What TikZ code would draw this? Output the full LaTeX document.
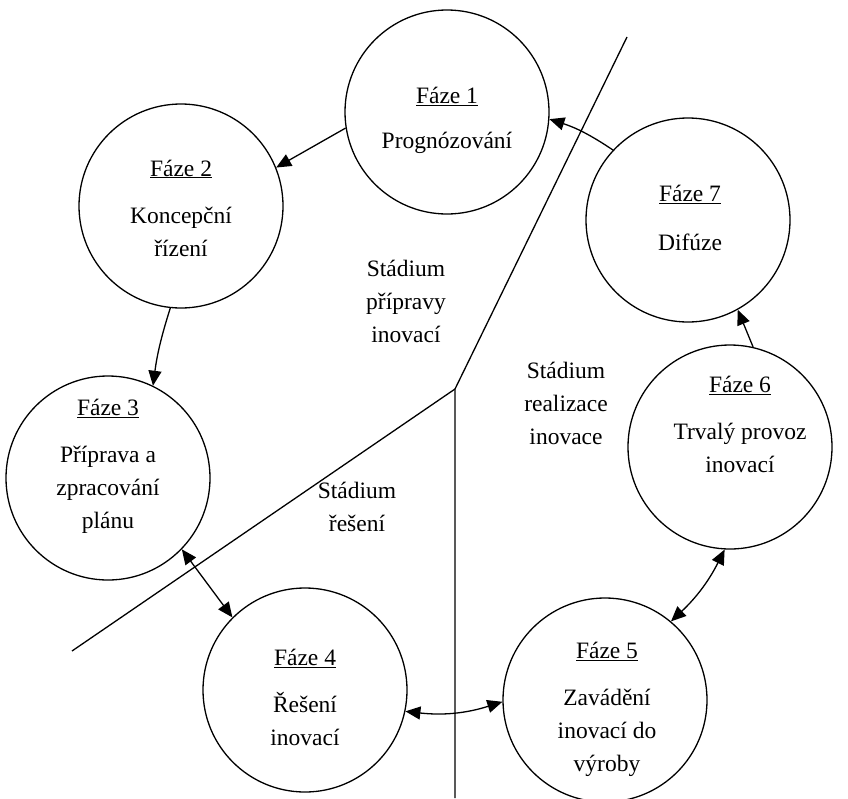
\documentclass[tikz,border=0pt]{standalone}
\usepackage{fontspec}
\setmainfont{Liberation Serif}
\usetikzlibrary{arrows.meta}
\begin{document}
\begin{tikzpicture}[x=1pt,y=-1pt,
  phase/.style={circle,draw,line width=1.3pt,minimum size=204pt,inner sep=0pt},
  txt/.style={align=center,font=\fontsize{23.5}{33}\selectfont,inner sep=0pt},
  tip/.tip={Triangle[length=15pt,width=13pt]},
  conn/.style={line width=1.3pt,-tip},
  both/.style={line width=1.3pt,tip-tip},
  divider/.style={line width=1.3pt}]
\useasboundingbox (0,0) rectangle (848,798);

% stage dividers
\coordinate (j) at (455,389);
\coordinate (dTop) at (627,37);
\coordinate (dLeft) at (72,651);
\coordinate (dBottom) at (455,798);
\draw[divider] (dTop) -- (j) -- (dBottom);
\draw[divider] (j) -- (dLeft);

% phase circles
\node[phase] (f1) at (447,112) {};
\node[phase] (f2) at (181,206) {};
\node[phase] (f3) at (108,478) {};
\node[phase] (f4) at (305,690) {};
\node[phase] (f5) at (605,700) {};
\node[phase] (f6) at (730,447) {};
\node[phase] (f7) at (688,220) {};

% phase texts
\node[txt] (t1) at (447,120) {\underline{Fáze 1}\\[12pt]Prognózování};
\node[txt] (t2) at (181,208) {\underline{Fáze 2}\\[14pt]Koncepční\\řízení};
\node[txt] (t3) at (108,466.5) {\underline{Fáze 3}\\[14pt]Příprava a\\zpracování\\plánu};
\node[txt] (t4) at (305,697.5) {\underline{Fáze 4}\\[14pt]Řešení\\inovací};
\node[txt] (t5) at (607,709) {\underline{Fáze 5}\\[14pt]Zavádění\\inovací do\\výroby};
\node[txt] (t6) at (740,424.5) {\underline{Fáze 6}\\[14pt]Trvalý provoz\\inovací};
\node[txt] (t7) at (690,218) {\underline{Fáze 7}\\[16pt]Difúze};

% stage labels
\node[txt] (s1) at (406,301.5) {Stádium\\přípravy\\inovací};
\node[txt] (s2) at (566,403) {Stádium\\realizace\\inovace};
\node[txt] (s3) at (357,506.5) {Stádium\\řešení};

% connectors
\draw[conn] (f1.189.5) -- (f2.22.5);
\draw[conn] (f2.264) to[bend right=5] (f3.64);
\draw[both] (f3.316.5) -- (f4.135);
\draw[both] (f4.-12.4) to[bend right=12] (f5.181.7);
\draw[both] (f5.50.6) to[bend right=10] (f6.267.6);
\draw[conn] (f6.77.3) -- (f7.299.6);
\draw[conn] (f7.137.4) to[bend right=8] (f1.-4.7);
\end{tikzpicture}
\end{document}
